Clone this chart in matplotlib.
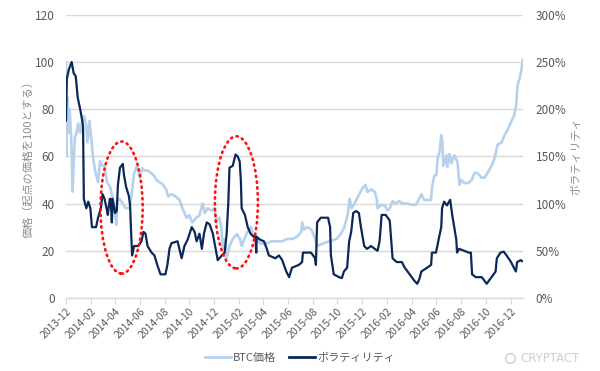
"""BTC price (start = 100) vs. volatility, Dec 2013 - Dec 2016, with two
highlighted volatility spikes (red dotted ellipses).

python3 plot.py  -> out.png
"""

import matplotlib
import matplotlib.dates as mdates
import pandas as pd

matplotlib.use("Agg")
import matplotlib.pyplot as plt  # noqa: E402
from matplotlib.lines import Line2D  # noqa: E402
from matplotlib.patches import Ellipse  # noqa: E402

OUT_PNG = "out.png"

# BTC price, indexed so the first day = 100 (left axis)
price_dates = [
    "2013-12-01", "2013-12-02", "2013-12-04", "2013-12-07", "2013-12-10", "2013-12-13",
    "2013-12-15", "2013-12-17", "2013-12-20", "2013-12-23", "2013-12-27", "2013-12-31",
    "2014-01-05", "2014-01-10", "2014-01-15", "2014-01-20", "2014-01-23", "2014-01-28",
    "2014-02-01", "2014-02-06", "2014-02-12", "2014-02-18", "2014-02-23", "2014-03-01",
    "2014-03-06", "2014-03-12", "2014-03-20", "2014-03-25", "2014-03-30", "2014-04-04",
    "2014-04-06", "2014-04-12", "2014-04-20", "2014-04-27", "2014-05-06", "2014-05-12",
    "2014-05-18", "2014-05-25", "2014-06-01", "2014-06-07", "2014-06-12", "2014-06-20",
    "2014-06-28", "2014-07-05", "2014-07-12", "2014-07-20", "2014-07-28", "2014-08-05",
    "2014-08-10", "2014-08-18", "2014-08-28", "2014-09-07", "2014-09-14", "2014-09-24",
    "2014-10-01", "2014-10-08", "2014-10-18", "2014-10-26", "2014-11-03", "2014-11-08",
    "2014-11-15", "2014-11-25", "2014-12-02", "2014-12-07", "2014-12-14", "2014-12-19",
    "2014-12-22", "2014-12-27", "2015-01-01", "2015-01-08", "2015-01-16", "2015-01-26",
    "2015-02-03", "2015-02-07", "2015-02-14", "2015-02-21", "2015-03-02", "2015-03-09",
    "2015-03-17", "2015-03-27", "2015-04-08", "2015-04-21", "2015-05-03", "2015-05-18",
    "2015-05-30", "2015-06-12", "2015-06-24", "2015-07-04", "2015-07-06", "2015-07-11",
    "2015-07-19", "2015-07-29", "2015-08-05", "2015-08-13", "2015-08-25", "2015-09-11",
    "2015-09-29", "2015-10-11", "2015-10-18", "2015-10-26", "2015-10-31", "2015-11-05",
    "2015-11-12", "2015-11-24", "2015-12-02", "2015-12-09", "2015-12-14", "2015-12-24",
    "2016-01-01", "2016-01-06", "2016-01-08", "2016-01-18", "2016-01-26", "2016-02-02",
    "2016-02-07", "2016-02-14", "2016-02-21", "2016-03-01", "2016-03-11", "2016-03-21",
    "2016-04-01", "2016-04-11", "2016-04-15", "2016-04-25", "2016-05-02", "2016-05-12",
    "2016-05-19", "2016-05-21", "2016-05-27", "2016-06-01", "2016-06-04", "2016-06-09",
    "2016-06-13", "2016-06-16", "2016-06-18", "2016-06-26", "2016-06-28", "2016-07-03",
    "2016-07-08", "2016-07-15", "2016-07-23", "2016-07-28", "2016-08-02", "2016-08-09",
    "2016-08-19", "2016-08-27", "2016-09-03", "2016-09-10", "2016-09-20", "2016-09-28",
    "2016-10-05", "2016-10-15", "2016-10-22", "2016-10-30", "2016-11-09", "2016-11-16",
    "2016-11-23", "2016-12-03", "2016-12-10", "2016-12-15", "2016-12-18", "2016-12-23",
    "2016-12-28", "2016-12-31",
]
price_values = [
    100, 60, 85, 70, 80, 70,
    62, 45, 58, 68, 70, 74,
    70, 75, 77, 73, 66, 75,
    68, 59, 53, 49, 58, 56,
    56, 49, 47, 43, 38, 31,
    41, 42, 40, 38, 38, 44,
    53, 56, 51, 55, 54, 54,
    53, 52, 50, 49, 48, 46,
    43, 44, 43, 41.5, 38, 34,
    35, 32, 34, 35, 40, 36,
    38, 37, 38, 32, 34, 30,
    21, 25, 17, 22, 25, 27,
    25, 22, 25, 28, 30, 26,
    24, 23, 23, 24, 24, 24,
    25, 25, 26, 28, 32, 29,
    30, 29, 26, 22, 23, 24,
    25, 27.5, 30, 35, 42, 38,
    40, 44, 46.5, 48, 45, 46,
    45, 42, 38, 39.5, 39, 37,
    38, 41, 40, 41, 40, 40,
    39.5, 39.5, 40.5, 44, 41.5, 41.5,
    41.5, 46.5, 52, 52, 59, 62,
    69, 66, 56, 60.5, 55.5, 61,
    57, 60.5, 57.6, 48, 50, 48.7,
    48.7, 50, 53, 53, 51, 51,
    53, 56, 59, 65, 66, 69,
    71, 75, 77.5, 82, 90, 93,
    97, 101,
]

# Volatility in % (right axis)
vol_dates = [
    "2013-12-01", "2013-12-03", "2013-12-08", "2013-12-15", "2013-12-20", "2013-12-25",
    "2013-12-30", "2014-01-05", "2014-01-10", "2014-01-12", "2014-01-14", "2014-01-20",
    "2014-01-25", "2014-01-30", "2014-02-03", "2014-02-13", "2014-02-18", "2014-02-25",
    "2014-03-01", "2014-03-06", "2014-03-11", "2014-03-14", "2014-03-19", "2014-03-21",
    "2014-03-24", "2014-03-26", "2014-04-01", "2014-04-05", "2014-04-08", "2014-04-13",
    "2014-04-20", "2014-04-23", "2014-04-28", "2014-05-05", "2014-05-08", "2014-05-10",
    "2014-05-13", "2014-05-18", "2014-05-28", "2014-06-05", "2014-06-10", "2014-06-15",
    "2014-06-20", "2014-06-30", "2014-07-07", "2014-07-14", "2014-07-22", "2014-08-03",
    "2014-08-08", "2014-08-13", "2014-08-18", "2014-09-02", "2014-09-12", "2014-09-19",
    "2014-09-27", "2014-10-07", "2014-10-14", "2014-10-19", "2014-10-26", "2014-11-01",
    "2014-11-06", "2014-11-13", "2014-11-20", "2014-11-28", "2014-12-05", "2014-12-10",
    "2014-12-20", "2014-12-27", "2015-01-01", "2015-01-05", "2015-01-08", "2015-01-16",
    "2015-01-23", "2015-01-28", "2015-02-02", "2015-02-05", "2015-02-07", "2015-02-15",
    "2015-02-22", "2015-03-01", "2015-03-08", "2015-03-13", "2015-03-15", "2015-03-16",
    "2015-03-23", "2015-04-03", "2015-04-10", "2015-04-15", "2015-05-01", "2015-05-10",
    "2015-05-18", "2015-05-28", "2015-06-04", "2015-06-11", "2015-06-28", "2015-07-06",
    "2015-07-08", "2015-07-28", "2015-08-07", "2015-08-09", "2015-08-12", "2015-08-21",
    "2015-09-08", "2015-09-13", "2015-09-15", "2015-09-22", "2015-10-05", "2015-10-12",
    "2015-10-17", "2015-10-25", "2015-10-30", "2015-11-04", "2015-11-09", "2015-11-16",
    "2015-11-23", "2015-11-28", "2015-12-06", "2015-12-13", "2015-12-23", "2016-01-01",
    "2016-01-08", "2016-01-13", "2016-01-18", "2016-01-28", "2016-02-02", "2016-02-07",
    "2016-02-11", "2016-02-14", "2016-02-24", "2016-03-08", "2016-03-15", "2016-03-22",
    "2016-04-01", "2016-04-08", "2016-04-15", "2016-04-20", "2016-04-25", "2016-05-09",
    "2016-05-19", "2016-05-21", "2016-05-31", "2016-06-08", "2016-06-13", "2016-06-15",
    "2016-06-20", "2016-06-27", "2016-07-05", "2016-07-10", "2016-07-15", "2016-07-20",
    "2016-07-22", "2016-07-27", "2016-08-08", "2016-08-20", "2016-08-25", "2016-08-28",
    "2016-09-06", "2016-09-21", "2016-09-28", "2016-10-03", "2016-10-08", "2016-10-15",
    "2016-10-25", "2016-10-28", "2016-11-06", "2016-11-14", "2016-11-21", "2016-12-02",
    "2016-12-09", "2016-12-14", "2016-12-17", "2016-12-26", "2016-12-29",
]
vol_values = [
    188, 232, 242, 250, 238, 235,
    212, 200, 188, 182, 105, 95,
    102, 95, 75, 75, 85, 95,
    110, 105, 95, 88, 105, 105,
    80, 105, 90, 92, 120, 138,
    142, 130, 118, 108, 98, 75,
    45, 55, 55, 60, 70, 68,
    55, 48, 45, 35, 25, 25,
    35, 52, 58, 60, 42, 55,
    62, 75, 70, 60, 68, 52,
    68, 80, 78, 68, 52, 40,
    45, 48, 68, 100, 138, 140,
    152, 150, 145, 125, 95, 88,
    75, 68, 65, 65, 48, 65,
    62, 60, 52, 45, 42, 45,
    40, 28, 22, 32, 35, 38,
    48, 48, 42, 35, 80, 85,
    85, 75, 45, 25, 22, 21,
    28, 32, 60, 70, 90, 92,
    90, 75, 55, 52, 55, 52,
    50, 60, 88, 88, 85, 82,
    60, 42, 38, 38, 32, 28,
    22, 18, 15, 20, 28, 32,
    35, 48, 48, 65, 75, 95,
    102, 98, 104, 88, 75, 62,
    48, 52, 50, 48, 48, 25,
    22, 22, 18, 15, 18, 22,
    28, 42, 48, 49, 45, 38,
    32, 28, 38, 40, 39,
]

# highlighted spikes: centre date, centre (price-axis units), width in days, height
highlight_dates = ["2014-04-17", "2015-01-25"]
highlight_levels = [38.3, 40.5]
highlight_widths = [104, 106]
highlight_heights = [56, 56]

PRICE_COLOR = "#b6d1ec"
VOL_COLOR = "#0c2858"
TEXT_COLOR = "#595959"
GRID_COLOR = "#d9d9d9"

plt.rcParams["font.family"] = ["Noto Sans CJK JP", "DejaVu Sans"]


def main():
    pdates = pd.to_datetime(price_dates)
    vdates = pd.to_datetime(vol_dates)

    fig = plt.figure(figsize=(6.0, 3.71), dpi=100)
    ax = fig.add_axes([0.110, 0.197, 0.762, 0.763])
    ax2 = ax.twinx()

    ax.plot(pdates, price_values, color=PRICE_COLOR, linewidth=1.9, solid_joinstyle="round")
    ax2.plot(vdates, vol_values, color=VOL_COLOR, linewidth=1.6, solid_joinstyle="round")

    for d, lvl, w, h in zip(highlight_dates, highlight_levels, highlight_widths, highlight_heights):
        ell = Ellipse((mdates.date2num(pd.Timestamp(d)), lvl), w, h, fill=False,
                      edgecolor="#ff1010", linewidth=1.9, linestyle=(0, (0.5, 1.7)),
                      capstyle="round", transform=ax.transData, zorder=5)
        ax2.add_patch(ell)

    ax.set_xlim(pd.Timestamp("2013-12-01"), pd.Timestamp("2017-01-01"))
    ax.set_ylim(0, 120)
    ax2.set_ylim(0, 300)
    ax.set_yticks(range(0, 121, 20))
    ax2.set_yticks(range(0, 301, 50))
    ax2.yaxis.set_major_formatter(matplotlib.ticker.FuncFormatter(lambda v, _: f"{v:.0f}%"))

    ax.xaxis.set_major_locator(mdates.MonthLocator(bymonth=[12, 2, 4, 6, 8, 10]))
    ax.xaxis.set_major_formatter(mdates.DateFormatter("%Y-%m"))
    for lbl in ax.get_xticklabels():
        lbl.set_rotation(45)
        lbl.set_ha("right")
        lbl.set_rotation_mode("anchor")

    ax.grid(axis="y", color=GRID_COLOR, linewidth=1.0)
    ax.set_axisbelow(True)
    for a in (ax, ax2):
        for side in ("top", "left", "right", "bottom"):
            a.spines[side].set_visible(False)
    ax.spines["bottom"].set_visible(True)
    ax.spines["bottom"].set_color(GRID_COLOR)
    ax.spines["bottom"].set_linewidth(1.0)

    ax.tick_params(axis="y", length=0, pad=8, labelsize=8.5, labelcolor=TEXT_COLOR)
    ax2.tick_params(axis="y", length=0, pad=9, labelsize=8.5, labelcolor=TEXT_COLOR)
    ax.tick_params(axis="x", length=4, color=GRID_COLOR, pad=2, labelsize=7.5,
                   labelcolor=TEXT_COLOR)

    ax.set_ylabel("価格（起点の価格を100とする）", color="#8c8c8c", fontsize=8, labelpad=1)
    ax2.set_ylabel("ボラティリティ", color="#8c8c8c", fontsize=8, rotation=90, labelpad=3)

    handles = [Line2D([], [], color=PRICE_COLOR, linewidth=2.0),
               Line2D([], [], color=VOL_COLOR, linewidth=2.0)]
    fig.legend(handles, ["BTC価格", "ボラティリティ"], loc="center",
               bbox_to_anchor=(0.5, 0.035), ncol=2, frameon=False, fontsize=8,
               labelcolor=TEXT_COLOR, handlelength=2.3, handletextpad=0.2,
               columnspacing=1.2)

    fig.add_artist(Line2D([0.85], [0.035], marker="o", markersize=7, markerfacecolor="none",
                          markeredgecolor="#d3d3d3", markeredgewidth=1.2,
                          transform=fig.transFigure))
    fig.text(0.867, 0.035, "CRYPTACT", color="#cfcfcf", fontsize=8.5, va="center",
             ha="left", family=["DejaVu Sans"])

    fig.savefig(OUT_PNG, dpi=100)
    plt.close(fig)


if __name__ == "__main__":
    main()
